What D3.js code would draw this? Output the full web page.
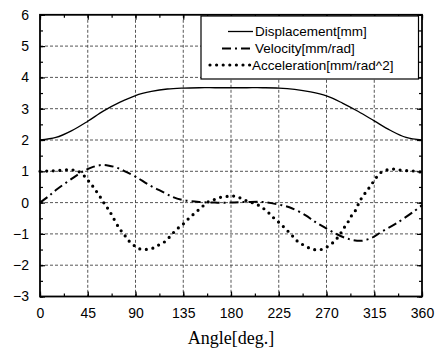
<!DOCTYPE html>
<html><head><meta charset="utf-8">
<script src="https://cdn.jsdelivr.net/npm/d3@7"></script>
<style>body{margin:0;background:#fff}</style>
</head><body>
<svg id="c" width="442" height="352"></svg>
<script>
const xTicks = [0,45,90,135,180,225,270,315,360];
const yTicks = [-3,-2,-1,0,1,2,3,4,5,6];
const seriesNames = ["Displacement[mm]","Velocity[mm/rad]","Acceleration[mm/rad^2]"];
const xLabel = "Angle[deg.]";

const dispAngles = [0,15,30,45,60,75,90,105,120,135,150,165,180,195,210,225,240,255,270,285,300,315,330,345,360];
const dispValues = [2.00,2.08,2.30,2.60,2.93,3.20,3.42,3.55,3.63,3.66,3.67,3.67,3.67,3.67,3.67,3.66,3.62,3.54,3.41,3.18,2.91,2.61,2.31,2.08,2.00];

const velAngles = [0,8,15,26,35,43,50,58,65,72,80,90,103,117,125,135,150,165,180,195,210,223,235,250,259,267,278,287,294,303,313,322,336,352,360];
const velValues = [0.00,0.20,0.40,0.67,0.88,1.04,1.14,1.20,1.18,1.12,1.00,0.83,0.56,0.32,0.18,0.08,0.02,0.00,0.00,0.02,0.02,-0.05,-0.15,-0.40,-0.61,-0.77,-0.98,-1.12,-1.19,-1.22,-1.12,-0.93,-0.66,-0.29,-0.08];

const accAngles = [0,10,20,28,34,39,45,50,57.5,61.5,65,68.5,74.7,79.5,84,89.5,95,101.5,107.7,113,118.5,123.8,129,134.8,140.4,146.4,152,157.4,163,169,175,180,185.6,191,197,203.8,209.5,215,220,226,231.5,237,242.5,248,254.4,260,266,271.7,277,282,285.8,289.6,293,297,300,303,307,311,315.7,320.4,326.7,333,339,345.6,351.8,360];
const accValues = [1.00,1.01,1.03,1.05,1.02,0.94,0.72,0.51,0.14,-0.08,-0.24,-0.45,-0.82,-1.03,-1.23,-1.39,-1.49,-1.49,-1.44,-1.33,-1.23,-1.03,-0.85,-0.69,-0.50,-0.32,-0.16,0.00,0.08,0.16,0.19,0.21,0.19,0.11,0.03,-0.05,-0.16,-0.31,-0.48,-0.66,-0.84,-1.03,-1.23,-1.35,-1.46,-1.51,-1.49,-1.39,-1.25,-1.05,-0.84,-0.66,-0.45,-0.27,-0.05,0.14,0.33,0.51,0.74,0.94,1.04,1.07,1.04,1.02,1.01,0.97];

const L = 40, R = 422, T = 14.8, B = 296.5;
const svg = d3.select("#c");
const x = d3.scaleLinear().domain([0,360]).range([L,R]);
const y = d3.scaleLinear().domain([-3,6]).range([B,T]);

// grid
const g = svg.append("g");
g.selectAll(".vx").data(xTicks.slice(1,-1)).join("line")
  .attr("x1",d=>x(d)).attr("x2",d=>x(d)).attr("y1",T).attr("y2",B)
  .attr("stroke","#444").attr("stroke-width",0.9).attr("stroke-dasharray","3,2");
g.selectAll(".hy").data(yTicks.slice(1,-1)).join("line")
  .attr("y1",d=>y(d)).attr("y2",d=>y(d)).attr("x1",L).attr("x2",R)
  .attr("stroke","#444").attr("stroke-width",0.9).attr("stroke-dasharray","3,2");

// axes with inward ticks
const minorX = d3.range(0,361,22.5);
const minorY = d3.range(-3,6.01,0.5);
function axis(gen, tr){ return svg.append("g").attr("transform",tr).call(gen); }
const fontAx = "'Liberation Sans', Arial, sans-serif";
axis(d3.axisBottom(x).tickValues(xTicks).tickSize(-5).tickPadding(12).tickFormat(d3.format("d")), `translate(0,${B})`);
axis(d3.axisBottom(x).tickValues(minorX).tickSize(-3).tickFormat(""), `translate(0,${B})`);
axis(d3.axisLeft(y).tickValues(yTicks).tickSize(-5).tickPadding(11).tickFormat(d3.format("d")), `translate(${L},0)`);
axis(d3.axisLeft(y).tickValues(minorY).tickSize(-3).tickFormat(""), `translate(${L},0)`);
axis(d3.axisTop(x).tickValues(xTicks).tickSize(-5).tickFormat(""), `translate(0,${T})`);
axis(d3.axisTop(x).tickValues(minorX).tickSize(-3).tickFormat(""), `translate(0,${T})`);
axis(d3.axisRight(y).tickValues(yTicks).tickSize(-5).tickFormat(""), `translate(${R},0)`);
axis(d3.axisRight(y).tickValues(minorY).tickSize(-3).tickFormat(""), `translate(${R},0)`);
svg.selectAll(".domain").remove();
svg.selectAll(".tick line").attr("stroke","#000").attr("stroke-width",1.2);
svg.selectAll(".tick text").attr("font-family",fontAx).attr("font-size",14).attr("fill","#000");

// lines
const line = (xs,vs)=>d3.line().curve(d3.curveCatmullRom.alpha(0.5))
  .x((d,i)=>x(xs[i])).y((d,i)=>y(vs[i]))(vs);
svg.append("path").attr("d",line(dispAngles,dispValues)).attr("fill","none")
  .attr("stroke","#000").attr("stroke-width",1.3);
svg.append("path").attr("d",line(velAngles,velValues)).attr("fill","none")
  .attr("stroke","#000").attr("stroke-width",2).attr("stroke-dasharray","9,4,2,4");
svg.append("path").attr("d",line(accAngles,accValues)).attr("fill","none")
  .attr("stroke","#000").attr("stroke-width",3.2).attr("stroke-linecap","round").attr("stroke-dasharray","0,6.6");

// frame
svg.append("rect").attr("x",L).attr("y",T).attr("width",R-L).attr("height",B-T)
  .attr("fill","none").attr("stroke","#000").attr("stroke-width",1.8);

// legend
const lg = svg.append("g");
lg.append("rect").attr("x",201).attr("y",16).attr("width",217.5).attr("height",63)
  .attr("fill","#fff").attr("stroke","#000").attr("stroke-width",1.2);
const rows = [31.5,48.5,65];
const sampleStart = [228,222,210];
const styles = [
  {w:1.3,dash:null,cap:"butt"},
  {w:2,dash:"9,4,2,4",cap:"butt"},
  {w:3.2,dash:"0,6.6",cap:"round"}
];
seriesNames.forEach((n,i)=>{
  const s = styles[i];
  const p = lg.append("line").attr("x1",sampleStart[i]).attr("x2",i===2?250:253)
    .attr("y1",rows[i]).attr("y2",rows[i]).attr("stroke","#000")
    .attr("stroke-width",s.w).attr("stroke-linecap",s.cap);
  if (s.dash) p.attr("stroke-dasharray",s.dash);
  lg.append("text").attr("x",i===2?252:255).attr("y",rows[i]).attr("dy","0.36em")
    .attr("font-family",fontAx).attr("font-size",13.5).text(n);
});

// x label
svg.append("text").attr("x",(L+R)/2).attr("y",344).attr("text-anchor","middle")
  .attr("font-family","'Liberation Serif','Times New Roman',serif").attr("font-size",18).text(xLabel);
</script>
</body></html>
